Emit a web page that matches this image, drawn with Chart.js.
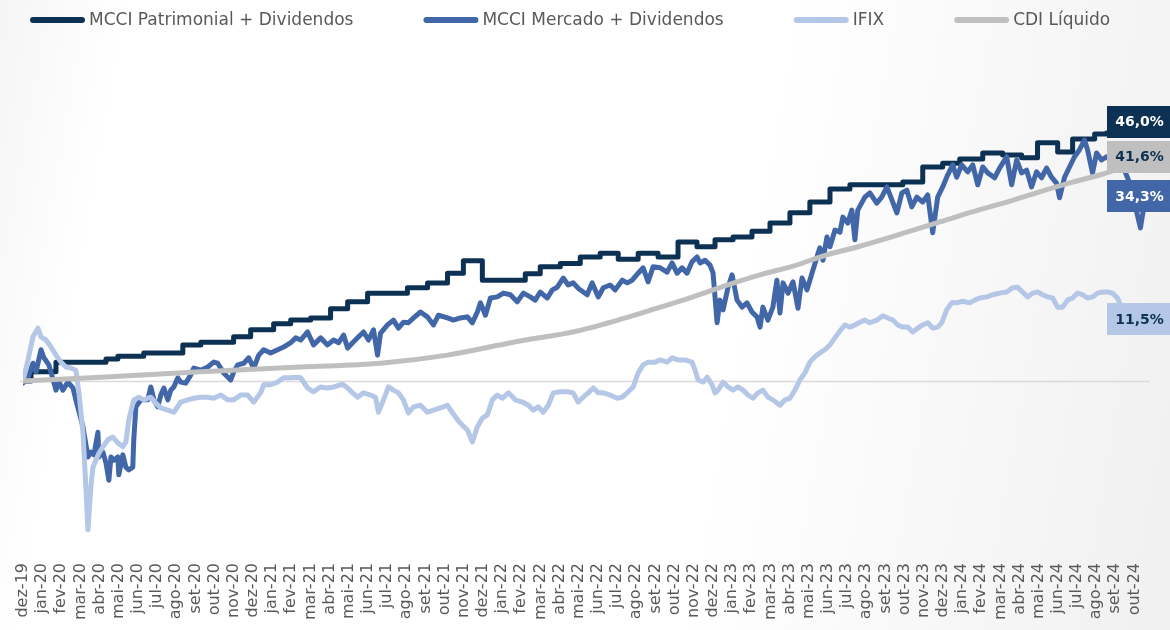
<!DOCTYPE html>
<html>
<head>
<meta charset="utf-8">
<script src="https://cdn.jsdelivr.net/npm/chart.js@4.4.1/dist/chart.umd.min.js"></script>
<style>
  html, body { margin: 0; padding: 0; width: 1170px; height: 630px; overflow: hidden; }
  body { background: linear-gradient(100deg, #f5f5f5 0%, #ffffff 10%, #ffffff 62%, #f0f0f0 100%); }
  canvas { display: block; }
</style>
</head>
<body>
<canvas id="chart" width="1170" height="630"></canvas>
<script>
// ---------- tick labels (one per month, index 0 = dez-19) ----------
const months = ['dez-19',
  'jan-20','fev-20','mar-20','abr-20','mai-20','jun-20','jul-20','ago-20','set-20','out-20','nov-20','dez-20',
  'jan-21','fev-21','mar-21','abr-21','mai-21','jun-21','jul-21','ago-21','set-21','out-21','nov-21','dez-21',
  'jan-22','fev-22','mar-22','abr-22','mai-22','jun-22','jul-22','ago-22','set-22','out-22','nov-22','dez-22',
  'jan-23','fev-23','mar-23','abr-23','mai-23','jun-23','jul-23','ago-23','set-23','out-23','nov-23','dez-23',
  'jan-24','fev-24','mar-24','abr-24','mai-24','jun-24','jul-24','ago-24','set-24','out-24'];

const seriesNames = ['MCCI Patrimonial + Dividendos', 'MCCI Mercado + Dividendos', 'IFIX', 'CDI Líquido'];

// ---------- MCCI Patrimonial + Dividendos (step changes; x = months since dez-19) ----------
const patrimonialX = [0, 0.42, 1.72, 4.33, 4.95, 6.30, 8.34, 9.28, 10.99, 11.88, 13.08, 13.97, 15.01, 16.05, 16.94, 17.98,
  20.06, 21.11, 22.15, 22.98, 23.97, 26.21, 26.99, 28.04, 29.08, 30.12, 31.06, 32.10, 33.14, 34.18, 35.17, 36.11,
  37.05, 38.04, 38.98, 40.02, 41.06, 42.11, 43.15, 45.91, 46.95, 47.99, 48.88, 50.08, 51.12, 52.11, 52.94, 53.99,
  54.77, 55.92, 56.54, 58.6];
const patrimonialY = [0, 1.7, 3.5, 4.1, 4.6, 5.2, 6.7, 7.2, 8.2, 9.5, 10.6, 11.3, 11.7, 13.4, 14.7, 16.3,
  17.3, 18.2, 20.0, 22.3, 18.7, 19.9, 21.2, 21.8, 23.0, 23.7, 22.6, 23.7, 23.0, 25.8, 24.9, 26.2,
  26.7, 27.8, 29.3, 31.2, 33.2, 35.6, 36.4, 36.9, 39.7, 40.4, 41.2, 42.3, 41.9, 41.4, 44.2, 42.5,
  44.9, 45.8, 46.0, 46.0];

// ---------- MCCI Mercado + Dividendos ----------
const mercadoX = [0, 0.26, 0.52, 0.68, 0.94, 1.09, 1.35, 1.62, 1.72, 1.88, 2.08, 2.34, 2.61, 2.76, 3.13, 3.39,
  3.54, 3.70, 3.91, 3.96, 4.17, 4.33, 4.48, 4.59, 4.74, 4.95, 5.00, 5.21, 5.37, 5.52, 5.73, 5.78,
  5.89, 6.15, 6.51, 6.67, 6.83, 7.03, 7.19, 7.35, 7.56, 7.71, 7.87, 8.08, 8.23, 8.49, 8.75, 8.91,
  9.28, 9.64, 9.95, 10.16, 10.47, 10.84, 11.00, 11.20, 11.52, 11.78, 12.04, 12.30, 12.56, 12.92, 13.29, 13.60,
  13.97, 14.23, 14.49, 14.85, 15.16, 15.53, 15.89, 16.21, 16.47, 16.73, 16.94, 17.20, 17.51, 17.77, 18.03, 18.29,
  18.50, 18.66, 19.02, 19.33, 19.59, 19.85, 20.11, 20.38, 20.74, 21.10, 21.42, 21.68, 22.15, 22.46, 22.82, 23.19,
  23.45, 23.71, 23.87, 24.13, 24.39, 24.75, 25.07, 25.43, 25.79, 26.11, 26.47, 26.73, 26.99, 27.36, 27.62, 27.88,
  28.19, 28.45, 28.71, 29.00, 29.44, 29.70, 30.02, 30.28, 30.64, 30.90, 31.27, 31.53, 31.79, 32.10, 32.36, 32.62,
  32.88, 33.25, 33.61, 33.87, 34.13, 34.39, 34.65, 34.91, 35.17, 35.33, 35.59, 35.85, 36.01, 36.22, 36.37, 36.53,
  36.79, 37.00, 37.26, 37.52, 37.78, 38.04, 38.30, 38.46, 38.61, 38.87, 39.13, 39.34, 39.50, 39.66, 39.92, 40.18,
  40.44, 40.65, 40.91, 41.17, 41.43, 41.58, 41.74, 41.95, 42.11, 42.37, 42.63, 42.78, 43.04, 43.25, 43.41, 43.56,
  43.93, 44.19, 44.55, 44.81, 45.08, 45.34, 45.60, 45.86, 46.12, 46.38, 46.64, 46.95, 47.21, 47.47, 47.73, 47.99,
  48.25, 48.51, 48.72, 48.98, 49.30, 49.56, 49.82, 50.08, 50.34, 50.70, 50.96, 51.33, 51.59, 51.85, 52.11, 52.37,
  52.63, 52.89, 53.15, 53.41, 53.67, 53.93, 54.09, 54.35, 54.61, 54.87, 55.13, 55.39, 55.55, 55.81, 56.02, 56.28,
  56.54, 56.96, 57.48, 57.89, 58.15, 58.31, 58.46, 58.6];
const mercadoY = [-0.4, 0.6, 3.3, 1.7, 5.8, 4.3, 3.0, -0.4, -1.7, -0.2, -1.7, -0.2, -1.3, -3.5, -8.5, -14.1,
  -13.2, -13.7, -9.5, -14.1, -13.2, -15.2, -18.4, -14.1, -14.7, -14.1, -17.4, -13.7, -16.0, -16.5, -16.0, -10.9,
  -4.8, -3.5, -3.5, -1.1, -3.5, -4.8, -2.6, -1.3, -3.5, -1.7, -1.1, 0.6, -0.2, -0.4, 1.1, 2.4,
  2.0, 2.6, 3.5, 3.3, 1.5, 0.2, 1.7, 3.0, 3.3, 4.3, 2.4, 4.8, 5.8, 5.2, 5.8, 6.3,
  7.1, 8.0, 7.6, 9.1, 6.7, 8.0, 6.7, 7.6, 7.1, 8.5, 6.1, 7.1, 8.2, 9.1, 7.6, 9.5,
  4.8, 8.9, 10.4, 11.3, 9.8, 10.9, 10.8, 11.7, 12.8, 11.9, 10.4, 12.2, 11.7, 11.3, 11.7, 11.9,
  10.8, 12.8, 14.5, 12.2, 15.4, 15.6, 16.3, 16.0, 14.7, 16.3, 15.6, 15.0, 16.5, 15.4, 16.9, 17.4,
  19.1, 17.8, 18.2, 17.1, 16.0, 18.2, 15.6, 17.3, 17.8, 16.9, 18.7, 18.2, 18.7, 20.0, 21.0, 18.4,
  21.2, 21.0, 20.2, 21.9, 20.0, 21.0, 20.0, 22.1, 23.0, 21.9, 22.4, 21.5, 20.0, 10.8, 15.0, 13.2,
  17.4, 19.7, 15.0, 13.7, 14.5, 12.8, 11.9, 10.0, 13.7, 11.3, 13.7, 18.7, 12.6, 18.2, 16.3, 18.4,
  13.5, 19.1, 16.9, 20.0, 23.0, 24.7, 22.4, 26.7, 24.9, 28.0, 27.6, 30.4, 29.3, 31.7, 26.2, 31.7,
  34.1, 34.9, 33.0, 34.1, 36.0, 33.6, 31.2, 34.9, 35.4, 32.3, 34.1, 33.2, 34.5, 27.5, 34.1, 36.0,
  38.2, 40.1, 37.8, 40.1, 38.8, 40.1, 36.4, 39.7, 38.6, 37.7, 39.5, 41.6, 36.4, 41.0, 38.6, 39.1,
  36.0, 38.8, 37.7, 39.5, 37.8, 36.7, 34.0, 37.8, 39.7, 41.6, 42.9, 44.7, 42.9, 38.6, 42.3, 41.0,
  41.6, 40.1, 39.1, 35.4, 30.8, 28.4, 31.7, 34.3];

// ---------- IFIX ----------
const ifixX = [0, 0.26, 0.52, 0.78, 0.94, 1.20, 1.46, 1.72, 1.98, 2.24, 2.50, 2.76, 2.92, 3.13, 3.28, 3.39,
  3.54, 3.65, 3.80, 3.96, 4.17, 4.43, 4.69, 4.95, 5.21, 5.37, 5.52, 5.78, 6.04, 6.31, 6.67, 6.93,
  7.19, 7.56, 7.87, 8.23, 8.60, 8.91, 9.28, 9.64, 9.95, 10.32, 10.68, 11.00, 11.36, 11.72, 12.04, 12.40,
  12.56, 12.92, 13.29, 13.60, 13.97, 14.23, 14.49, 14.85, 15.16, 15.53, 15.89, 16.21, 16.68, 16.94, 17.20, 17.46,
  17.77, 18.13, 18.39, 18.55, 18.81, 19.07, 19.33, 19.59, 19.85, 20.11, 20.38, 20.74, 21.10, 21.42, 21.78, 22.15,
  22.41, 22.67, 22.93, 23.19, 23.45, 23.71, 23.97, 24.23, 24.49, 24.75, 25.01, 25.33, 25.69, 26.06, 26.37, 26.63,
  26.89, 27.15, 27.41, 27.67, 28.04, 28.40, 28.71, 28.97, 29.23, 29.49, 29.76, 30.02, 30.28, 30.64, 31.01, 31.27,
  31.58, 31.84, 32.10, 32.36, 32.62, 32.99, 33.25, 33.61, 33.87, 34.18, 34.55, 34.91, 35.07, 35.23, 35.49, 35.70,
  35.96, 36.11, 36.27, 36.53, 36.79, 37.05, 37.31, 37.57, 37.83, 38.09, 38.35, 38.61, 38.87, 39.13, 39.50, 39.76,
  40.02, 40.28, 40.54, 40.80, 41.06, 41.32, 41.58, 41.84, 42.11, 42.37, 42.63, 42.89, 43.15, 43.41, 43.67, 43.93,
  44.19, 44.55, 44.87, 45.13, 45.39, 45.65, 45.91, 46.17, 46.43, 46.69, 46.95, 47.21, 47.47, 47.73, 47.94, 48.20,
  48.46, 48.72, 49.04, 49.40, 49.66, 49.92, 50.29, 50.60, 50.96, 51.33, 51.64, 51.90, 52.16, 52.42, 52.68, 52.94,
  53.21, 53.47, 53.73, 53.99, 54.25, 54.51, 54.77, 55.03, 55.29, 55.55, 55.81, 56.07, 56.33, 56.59, 56.85, 57.11,
  57.32, 58.0, 58.6];
const ifixY = [0, 3.9, 8.2, 9.8, 8.2, 7.6, 6.3, 4.8, 3.5, 2.6, 2.4, 2.0, -2.2, -9.6, -19.7, -27.6,
  -19.7, -16.0, -14.7, -13.4, -12.2, -10.9, -10.4, -11.5, -12.2, -11.3, -7.2, -3.5, -3.0, -3.5, -3.0, -4.1,
  -5.0, -5.4, -5.8, -3.9, -3.5, -3.2, -3.0, -3.0, -3.2, -2.6, -3.5, -3.5, -2.6, -2.6, -3.9, -2.2,
  -0.7, -0.7, -0.2, 0.6, 0.6, 0.7, 0.6, -1.3, -2.0, -1.1, -1.3, -1.1, -0.6, -1.3, -2.2, -3.0,
  -2.2, -2.6, -3.0, -5.8, -3.5, -1.1, -1.7, -2.2, -3.5, -5.9, -4.8, -4.5, -5.8, -5.4, -5.0, -4.5,
  -5.9, -7.2, -8.2, -9.1, -11.3, -8.5, -6.9, -6.3, -3.5, -2.6, -3.2, -2.2, -3.5, -3.9, -4.5, -5.4,
  -4.8, -5.8, -4.5, -2.2, -2.0, -2.0, -2.2, -3.9, -3.0, -2.2, -1.3, -2.2, -2.2, -2.6, -3.2, -3.0,
  -2.0, -1.1, 1.5, 3.0, 3.5, 3.5, 3.9, 3.5, 4.3, 3.9, 3.9, 3.5, 2.0, 0.2, -0.2, 0.7,
  -0.7, -2.2, -1.7, -0.2, -1.1, -1.7, -1.1, -1.7, -2.6, -3.2, -2.2, -1.7, -3.0, -3.5, -4.5, -3.5,
  -3.2, -1.7, 0.2, 1.5, 3.5, 4.5, 5.2, 5.8, 6.7, 8.0, 9.3, 10.4, 10.0, 10.4, 10.9, 11.3,
  10.8, 11.3, 12.1, 11.7, 11.3, 10.4, 10.0, 10.0, 9.1, 9.8, 10.4, 10.8, 9.8, 10.0, 10.8, 13.2,
  14.5, 14.5, 14.8, 14.5, 15.0, 15.4, 15.6, 16.0, 16.3, 16.5, 17.3, 17.4, 16.5, 15.6, 16.3, 16.5,
  16.0, 15.6, 15.4, 13.7, 13.7, 15.0, 15.4, 16.3, 16.0, 15.4, 15.6, 16.3, 16.5, 16.5, 16.3, 15.4,
  13.7, 12.2, 11.5];

// ---------- CDI Líquido ----------
const cdiX = [0, 4.06, 9.28, 14.49, 18.66, 22.15, 25.59, 29.08, 31.53, 33.25, 34.97, 36.74, 38.46, 40.18, 41.95, 43.67,
  46.12, 47.84, 49.56, 51.33, 53.05, 54.77, 56.54, 58.6];
const cdiY = [0, 0.7, 1.7, 2.6, 3.3, 4.8, 7.2, 9.4, 11.8, 13.7, 15.6, 17.8, 19.7, 21.3, 23.4, 25.0,
  27.6, 29.5, 31.4, 33.2, 35.1, 36.9, 38.6, 41.6];

// ---------- helpers / styles ----------
const toPoints = (xs, ys) => xs.map((x, i) => ({ x: x, y: ys[i] }));
const NAVY = '#0c3153', MID = '#4267a8', LIGHT = '#b4c7e7', GREY = '#bfbfbf';
const FONT = '"DejaVu Sans", "Noto Sans", sans-serif';

const zeroLine = {
  id: 'zeroLine',
  beforeDatasetsDraw(chart) {
    const { ctx, chartArea: a, scales: { y } } = chart;
    const py = Math.round(y.getPixelForValue(0)) + 0.5;
    ctx.save();
    ctx.strokeStyle = '#d9d9d9';
    ctx.lineWidth = 1.5;
    ctx.beginPath();
    ctx.moveTo(a.left - 3, py);
    ctx.lineTo(a.right + 4, py);
    ctx.stroke();
    ctx.restore();
  }
};

const endLabels = {
  id: 'endLabels',
  afterDatasetsDraw(chart) {
    const { ctx, chartArea: a, scales: { y } } = chart;
    const H = 32, GAP = 3;
    const items = chart.data.datasets.map(ds => {
      const v = ds.data[ds.data.length - 1].y;
      return { v, py: y.getPixelForValue(v), bg: ds.borderColor, fg: ds.endLabelColor };
    });
    const sorted = items.slice().sort((p, q) => q.py - p.py); // bottom first
    for (let k = 1; k < sorted.length; k++) {
      const lower = sorted[k - 1], upper = sorted[k];
      if (upper.py > lower.py - H - GAP) upper.py = lower.py - H - GAP;
    }
    const left = a.right - 39, right = chart.width;
    ctx.save();
    ctx.font = 'bold 14px ' + FONT;
    ctx.textAlign = 'center';
    ctx.textBaseline = 'middle';
    sorted.forEach(it => {
      ctx.fillStyle = it.bg;
      ctx.fillRect(left, Math.round(it.py - H / 2), right - left, H);
      ctx.fillStyle = it.fg;
      ctx.fillText(it.v.toFixed(1).replace('.', ',') + '%', (left + right) / 2 + 1, it.py + 1);
    });
    ctx.restore();
  }
};

const topLegend = {
  id: 'topLegend',
  afterDraw(chart) {
    const ctx = chart.ctx;
    ctx.save();
    ctx.font = '17px ' + FONT;
    ctx.textBaseline = 'middle';
    ctx.textAlign = 'left';
    const MW = 55, MH = 6, TG = 4, IG = 70, yc = 20;
    let x = 30;
    chart.data.datasets.forEach(ds => {
      ctx.fillStyle = ds.borderColor;
      ctx.beginPath();
      ctx.roundRect(x, yc - MH / 2, MW, MH, MH / 2);
      ctx.fill();
      ctx.fillStyle = '#595959';
      ctx.fillText(ds.label, x + MW + TG, yc + 1);
      x += MW + TG + ctx.measureText(ds.label).width + IG;
    });
    ctx.restore();
  }
};

new Chart(document.getElementById('chart').getContext('2d'), {
  type: 'line',
  data: {
    datasets: [
      { label: seriesNames[0], data: toPoints(patrimonialX, patrimonialY), borderColor: NAVY, backgroundColor: NAVY,
        borderWidth: 5, stepped: true, order: 4, endLabelColor: '#ffffff' },
      { label: seriesNames[1], data: toPoints(mercadoX, mercadoY), borderColor: MID, backgroundColor: MID,
        borderWidth: 5, tension: 0, order: 3, endLabelColor: '#ffffff' },
      { label: seriesNames[2], data: toPoints(ifixX, ifixY), borderColor: LIGHT, backgroundColor: LIGHT,
        borderWidth: 5, tension: 0, order: 2, endLabelColor: NAVY },
      { label: seriesNames[3], data: toPoints(cdiX, cdiY), borderColor: GREY, backgroundColor: GREY,
        borderWidth: 5, cubicInterpolationMode: 'monotone', order: 1, endLabelColor: NAVY }
    ]
  },
  options: {
    responsive: false,
    animation: false,
    layout: { padding: { left: 23, right: 24, top: 50, bottom: 0 } },
    elements: {
      point: { radius: 0, hoverRadius: 0 },
      line: { borderJoinStyle: 'round', borderCapStyle: 'round', fill: false }
    },
    plugins: { legend: { display: false }, tooltip: { enabled: false } },
    scales: {
      x: {
        type: 'linear', min: 0, max: 58.6,
        grid: { display: false, drawTicks: false },
        border: { display: false },
        ticks: {
          stepSize: 1, autoSkip: false, includeBounds: false, maxRotation: 90, minRotation: 90, padding: 2,
          color: '#595959', font: { family: FONT, size: 16 },
          callback: (v) => Number.isInteger(v) ? months[v] : ''
        },
        afterFit: (scale) => { scale.height = 69; }
      },
      y: { display: false, min: -33.39, max: 61.40 }
    }
  },
  plugins: [zeroLine, endLabels, topLegend]
});
</script>
</body>
</html>
